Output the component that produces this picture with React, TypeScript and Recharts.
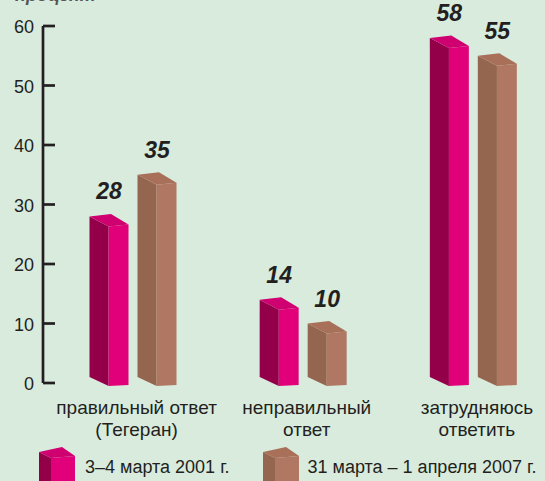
import { BarChart, Bar, XAxis, YAxis, LabelList } from 'recharts';

const categories = ['правильный ответ\n(Тегеран)', 'неправильный\nответ', 'затрудняюсь\nответить'];
const series2001 = [28, 14, 58];
const series2007 = [35, 10, 55];
const yTicks = [0, 10, 20, 30, 40, 50, 60];
const seriesNames = ['3–4 марта 2001 г.', '31 марта – 1 апреля 2007 г.'];

const data = categories.map((name, i) => ({ name, y2001: series2001[i], y2007: series2007[i] }));

const BG = '#d8ebdd';
const INK = '#231f20';
const FONT = '"Liberation Sans", Arial, sans-serif';

const PINK = { front: '#e2007a', side: '#930049', top: '#cf0070' };
const BROWN = { front: '#b07862', side: '#94654f', top: '#a86f59' };

// 3d-looking column: side face on the left, front face on the right
const makePrism = (c: typeof PINK) => (props: any) => {
  const { x, y, width: w, height: h } = props;
  if (w == null || h == null) return null;
  const base = y + h;
  const m = x + w * 0.49;
  const r = x + w;
  return (
    <g>
      <polygon points={`${x},${y} ${m},${y + 10} ${m},${base + 3} ${x},${base - 6}`} fill={c.side} />
      <polygon points={`${m},${y + 10} ${r},${y + 8} ${r},${base + 2} ${m},${base + 3}`} fill={c.front} />
      <polygon points={`${x},${y} ${x + w * 0.55},${y - 2.5} ${r},${y + 8} ${m},${y + 10}`} fill={c.top} />
    </g>
  );
};

const ValueLabel = (props: any) => {
  const { x, y, width, value } = props;
  return (
    <text x={x + width / 2} y={y - 17} textAnchor="middle" fontFamily={FONT} fontSize={23}
      fontWeight="bold" fontStyle="italic" fill={INK}>{value}</text>
  );
};

const YTick = (props: any) => {
  const { x, y, payload } = props;
  return (
    <g>
      <line x1={x + 9} x2={x + 21} y1={y} y2={y} stroke={INK} strokeWidth={2.7} />
      <text x={x} y={y} dy={7} textAnchor="end" fontFamily={FONT} fontSize={18} fill={INK}>{payload.value}</text>
    </g>
  );
};

const XTick = (props: any) => {
  const { x, y, payload } = props;
  const lines = String(payload.value).split('\n');
  return (
    <g>
      {lines.map((t, i) => (
        <text key={i} x={x + 4} y={y + 31 + i * 22} textAnchor="middle" fontFamily={FONT} fontSize={19} fill={INK}>{t}</text>
      ))}
    </g>
  );
};

const Cube = ({ c }: { c: typeof PINK }) => (
  <svg width={36} height={40} style={{ display: 'block' }}>
    <polygon points="0,5 12,11 12,40 0,34" fill={c.side} />
    <polygon points="12,11 36,9 36,40 12,40" fill={c.front} />
    <polygon points="0,5 23,0 36,9 12,11" fill={c.top} />
  </svg>
);

export default function App() {
  return (
    <div style={{ position: 'absolute', left: 0, top: 0, width: 545, height: 481, overflow: 'hidden', background: BG }}>
      <svg width={200} height={10} style={{ position: 'absolute', left: 0, top: 0 }}>
        <text x={15} y={0.5} fontFamily={FONT} fontSize={18} fontWeight="bold" fontStyle="italic" fill="#555">процент</text>
      </svg>
      <BarChart width={560} height={481} data={data} margin={{ top: 26, right: 2, left: 0, bottom: 28 }}
        barSize={39} barGap={9}>
        <XAxis dataKey="name" axisLine={false} tickLine={false} tickSize={0} tickMargin={0} height={70}
          interval={0} padding={{ left: 4.5, right: 0 }} tick={<XTick />} />
        <YAxis domain={[0, 60]} ticks={yTicks} width={43} tickLine={false} tickSize={0} tickMargin={9}
          axisLine={{ stroke: INK, strokeWidth: 2.7 }} tick={<YTick />} interval={0} />
        <Bar dataKey="y2001" name={seriesNames[0]} fill={PINK.front} shape={makePrism(PINK)} isAnimationActive={false}>
          <LabelList dataKey="y2001" content={<ValueLabel />} />
        </Bar>
        <Bar dataKey="y2007" name={seriesNames[1]} fill={BROWN.front} shape={makePrism(BROWN)} isAnimationActive={false}>
          <LabelList dataKey="y2007" content={<ValueLabel />} />
        </Bar>
      </BarChart>
      <div style={{ position: 'absolute', left: 39, top: 447, display: 'flex', alignItems: 'flex-start',
        fontFamily: FONT, fontSize: 18, color: INK, lineHeight: '20px' }}>
        <Cube c={PINK} />
        <span style={{ marginLeft: 10, marginTop: 10 }}>{seriesNames[0]}</span>
        <div style={{ marginLeft: 33 }}><Cube c={BROWN} /></div>
        <span style={{ marginLeft: 9, marginTop: 10 }}>{seriesNames[1]}</span>
      </div>
    </div>
  );
}
